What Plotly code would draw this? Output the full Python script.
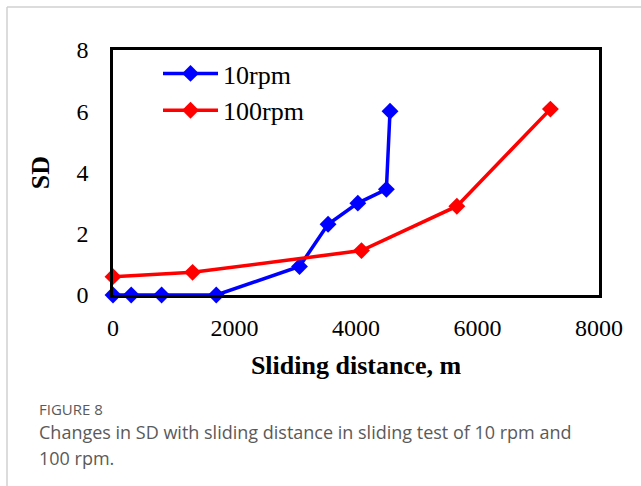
import plotly.graph_objects as go

x_10rpm = [0, 300, 800, 1700, 3070, 3540, 4030, 4500, 4560]
sd_10rpm = [0.0, 0.0, 0.0, 0.0, 0.93, 2.31, 3.0, 3.45, 6.0]
x_100rpm = [0, 1310, 4090, 5660, 7200]
sd_100rpm = [0.6, 0.74, 1.45, 2.9, 6.07]
x_ticks = [0, 2000, 4000, 6000, 8000]
y_ticks = [0, 2, 4, 6, 8]

W, H = 641, 486
L, R, T, B = 113, 599, 50, 295  # plot box in pixels

def px_x(p):
    return (p - L) / (R - L)

def px_y(p):
    return (B - p) / (B - T)

serif = "Liberation Serif, Times New Roman, serif"

fig = go.Figure()
fig.add_trace(go.Scatter(x=x_10rpm, y=sd_10rpm, name="10rpm", mode="lines+markers",
                         line=dict(color="#0000FF", width=3.5),
                         marker=dict(symbol="diamond", size=13, color="#0000FF"),
                         cliponaxis=False, legendgroup="a"))
fig.add_trace(go.Scatter(x=x_100rpm, y=sd_100rpm, name="100rpm", mode="lines+markers",
                         line=dict(color="#FF0000", width=3.5),
                         marker=dict(symbol="diamond", size=13, color="#FF0000"),
                         cliponaxis=False, legendgroup="b"))

fig.update_layout(
    width=W, height=H,
    margin=dict(l=L, r=W - R, t=T, b=H - B, pad=0),
    paper_bgcolor="white", plot_bgcolor="white",
    font=dict(family=serif, size=24, color="black"),
    showlegend=True,
    legend=dict(x=px_x(158), y=px_y(50), xanchor="left", yanchor="top",
                bgcolor="rgba(0,0,0,0)", font=dict(family=serif, size=26),
                itemwidth=55, tracegroupgap=0, traceorder="grouped"),
    xaxis=dict(range=[0, 8000], tickvals=x_ticks, showline=True, linecolor="black",
               linewidth=2.5, mirror=True, showgrid=False, zeroline=False, ticks="",
               ticklabelstandoff=9,
               title=dict(text="<b>Sliding distance, m</b>", font=dict(family=serif, size=26),
                          standoff=17)),
    yaxis=dict(range=[0, 8], tickvals=y_ticks, showline=True, linecolor="black",
               linewidth=2.5, mirror=True, showgrid=False, zeroline=False, ticks="",
               ticklabelstandoff=17,
               title=dict(text="<b>SD</b>", font=dict(family=serif, size=26), standoff=20)),
)

# card border (left and top)
fig.add_shape(type="line", xref="paper", yref="paper", x0=px_x(7), x1=px_x(700),
              y0=px_y(7), y1=px_y(7), line=dict(color="#d0d0d0", width=1.5))
fig.add_shape(type="line", xref="paper", yref="paper", x0=px_x(7), x1=px_x(7),
              y0=px_y(7), y1=px_y(520), line=dict(color="#d0d0d0", width=1.5))

sans = "Open Sans, Noto Sans, sans-serif"
fig.add_annotation(text="FIGURE 8", xref="paper", yref="paper", x=px_x(37), y=px_y(409),
                   xanchor="left", yanchor="middle", showarrow=False,
                   font=dict(family=sans, size=15, color="#5a5a5a"))
fig.add_annotation(text="Changes in SD with sliding distance in sliding test of 10 rpm and",
                   xref="paper", yref="paper", x=px_x(37), y=px_y(432), xanchor="left",
                   yanchor="middle", showarrow=False,
                   font=dict(family=sans, size=18, color="#5a5a5a"))
fig.add_annotation(text="100 rpm.",
                   xref="paper", yref="paper", x=px_x(37), y=px_y(458), xanchor="left",
                   yanchor="middle", showarrow=False,
                   font=dict(family=sans, size=18, color="#5a5a5a"))

fig.write_html("out.html")
